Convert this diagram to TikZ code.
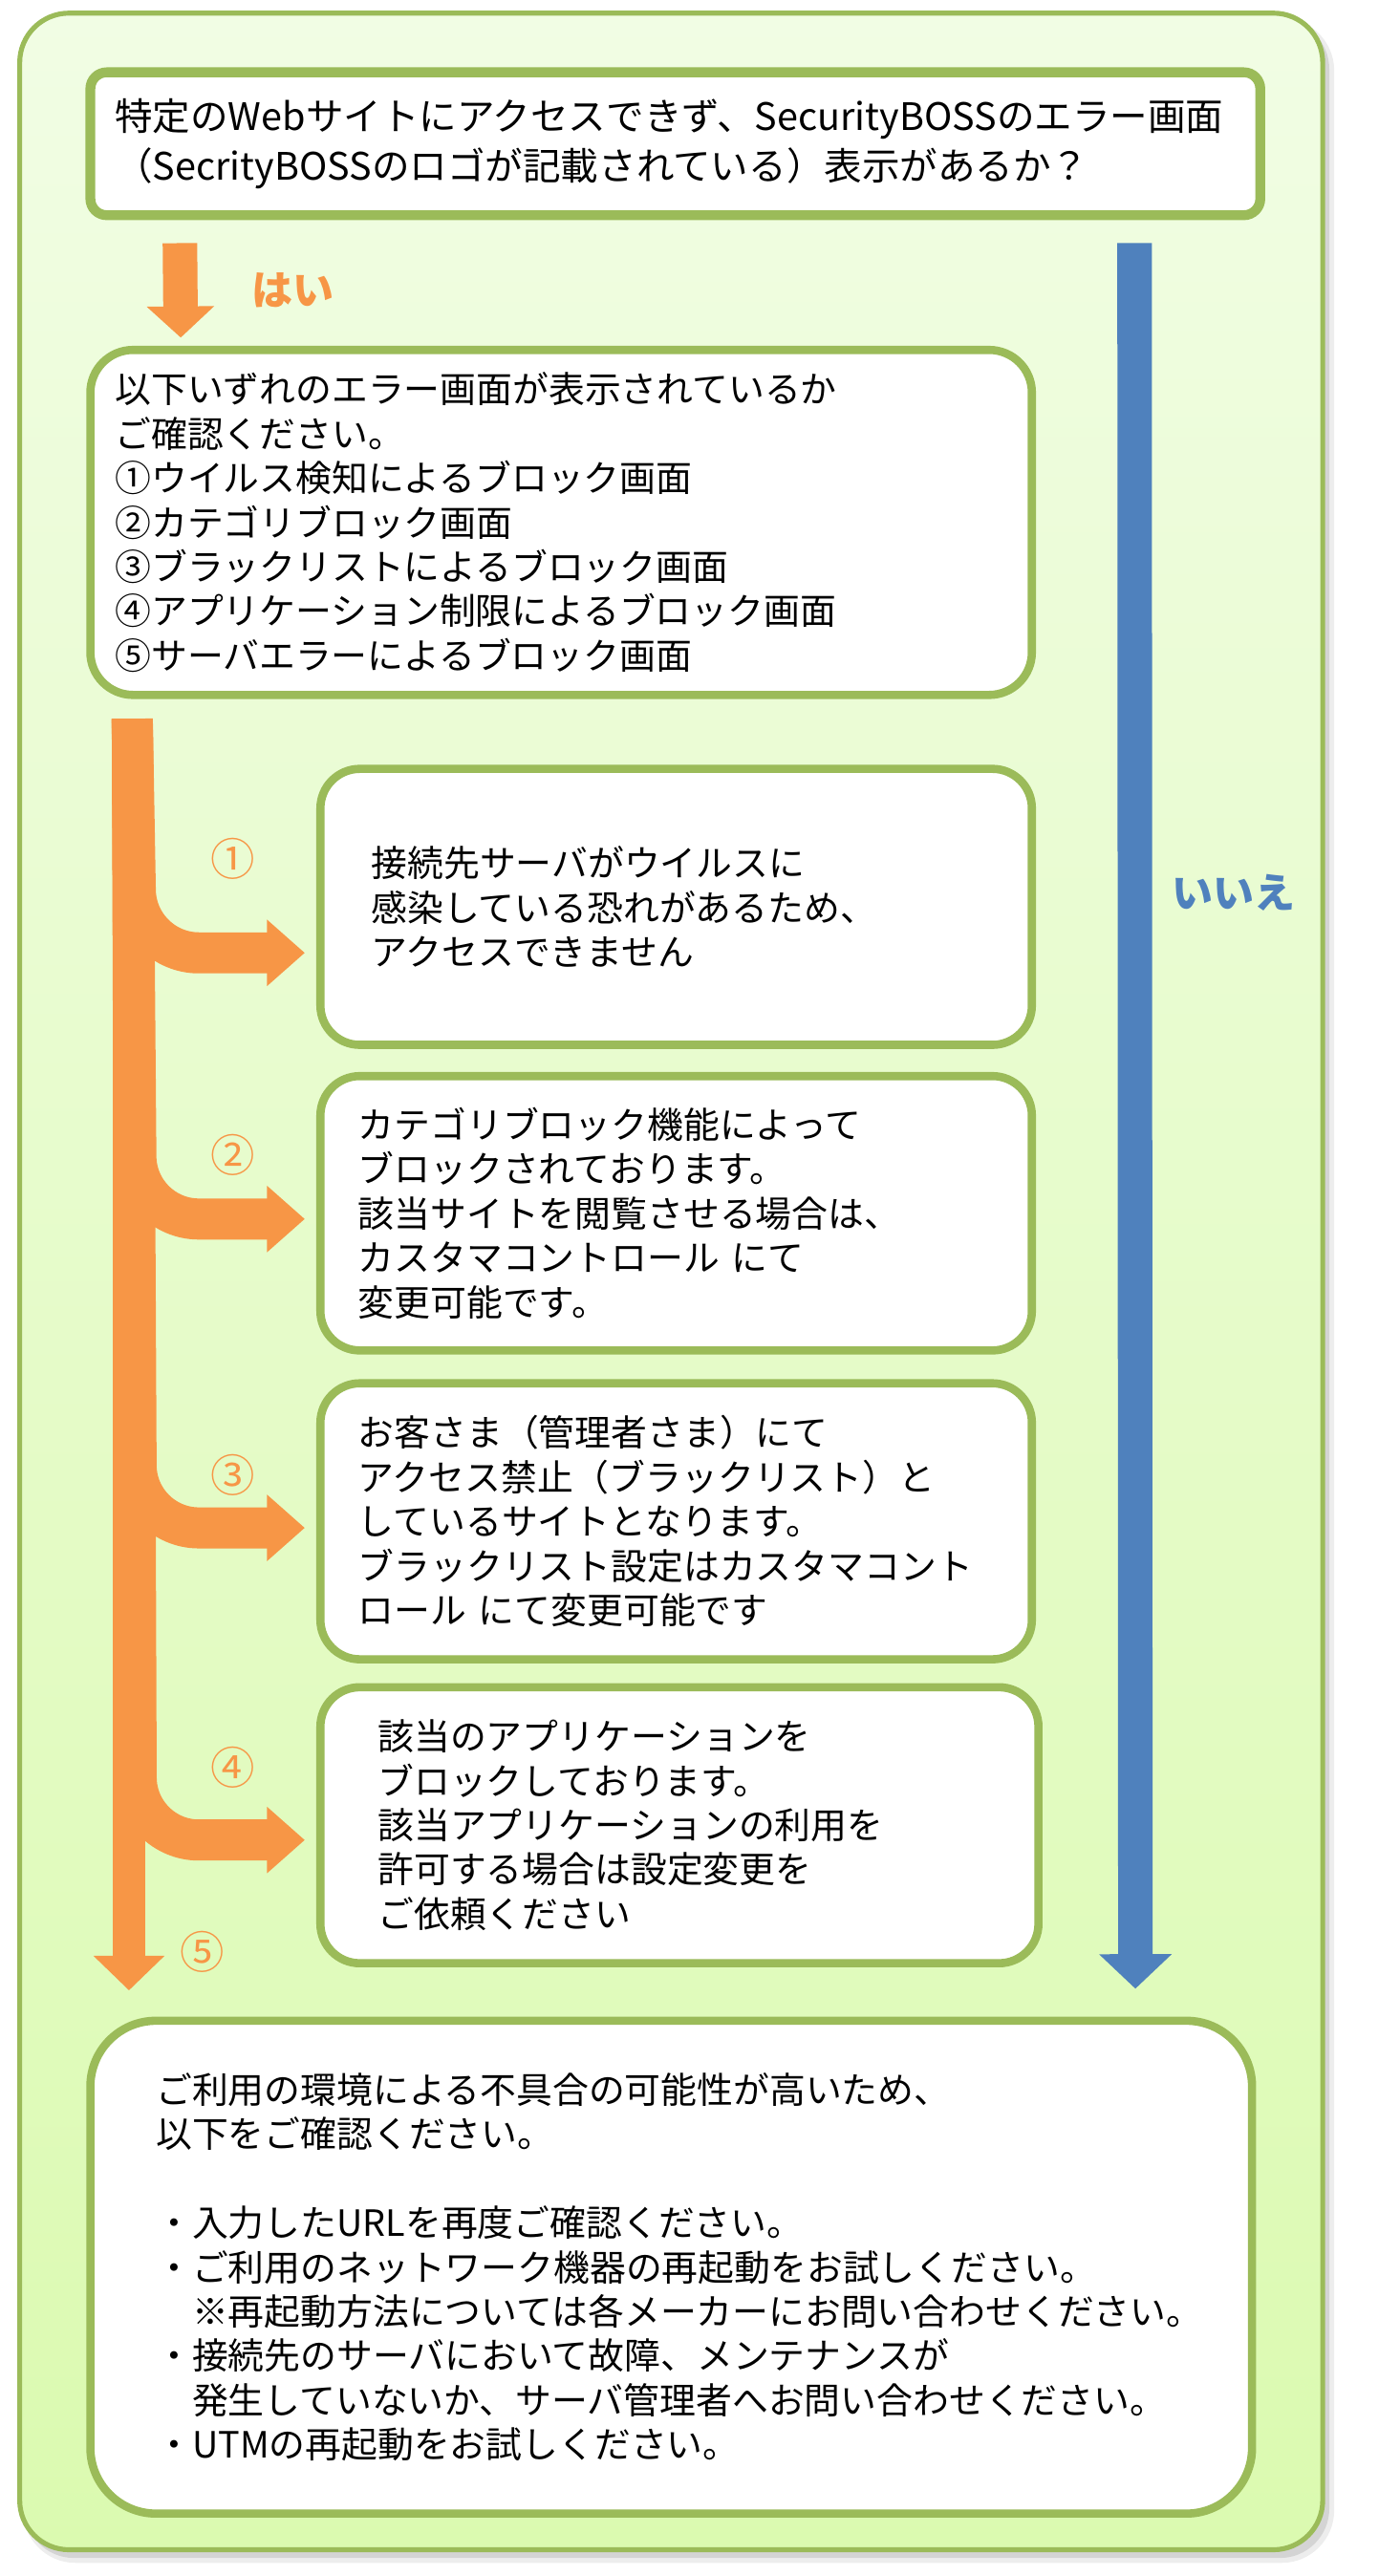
\documentclass[tikz,border=0pt]{standalone}
\usepackage{fontspec}
\setmainfont{Noto Sans CJK JP}
\usetikzlibrary{arrows.meta,calc}

\definecolor{framegreen}{RGB}{155,187,89}
\definecolor{bgtop}{RGB}{241,253,228}
\definecolor{bgbottom}{RGB}{219,250,176}
\definecolor{flow}{RGB}{247,150,70}
\definecolor{nopath}{RGB}{79,129,189}

\tikzset{
  msgbox/.style={draw=framegreen,line width=5pt,fill=white,rounded corners=24pt,
    align=left,inner sep=0pt,font=\fontsize{22}{27}\selectfont},
  lskip/.style={execute at begin node={\leftskip=#1pt}},
  branch/.style={flow,line width=25pt,rounded corners=38pt,shorten >=7pt,
    -{Triangle[width=39pt,length=23pt]}},
  anslbl/.style={flow,inner sep=0pt,font=\fontsize{25}{25}\selectfont\bfseries},
  numlbl/.style={flow,inner sep=0pt,font=\fontsize{27}{27}\selectfont},
}

\begin{document}
\begin{tikzpicture}[x=1pt,y=-1pt]
\fill[white] (0,0) rectangle (852,1568);
\useasboundingbox (0,0) rectangle (852,1568);

% panel
\fill[black,opacity=0.07,rounded corners=32pt] (14,11) rectangle (812,1560);
\fill[black,opacity=0.10,rounded corners=30pt] (15,12) rectangle (809,1557);
\draw[framegreen,line width=3pt,rounded corners=30pt,top color=bgtop,bottom color=bgbottom]
  (12,8) rectangle (805,1552);

% question
\node[msgbox,line width=6pt,rounded corners=10pt,minimum width=712pt,minimum height=87pt,
  text width=682pt,font=\fontsize{23}{30}\selectfont] (q) at (411,87.5)
  {特定のWebサイトにアクセスできず、SecurityBOSSのエラー画面\\
   （SecrityBOSSのロゴが記載されている）表示があるか？};

\node[msgbox,rounded corners=26pt,minimum width=573pt,minimum height=210pt,text width=543pt]
  (list) at (341.5,318)
  {以下いずれのエラー画面が表示されているか\\
   ご確認ください。\\
   ①ウイルス検知によるブロック画面\\
   ②カテゴリブロック画面\\
   ③ブラックリストによるブロック画面\\
   ④アプリケーション制限によるブロック画面\\
   ⑤サーバエラーによるブロック画面};

% answers
\node[msgbox,minimum width=433pt,minimum height=168pt,text width=403pt,lskip=16]
  (b1) at (411.5,552)
  {接続先サーバがウイルスに\\
   感染している恐れがあるため、\\
   アクセスできません};
\node[msgbox,minimum width=433pt,minimum height=167pt,text width=403pt,lskip=8]
  (b2) at (411.5,738.5)
  {カテゴリブロック機能によって\\
   ブロックされております。\\
   該当サイトを閲覧させる場合は、\\
   カスタマコントロール にて\\
   変更可能です。};
\node[msgbox,minimum width=433pt,minimum height=168pt,text width=403pt,lskip=8]
  (b3) at (411.5,926)
  {お客さま（管理者さま）にて\\
   アクセス禁止（ブラックリスト）と\\
   しているサイトとなります。\\
   ブラックリスト設定はカスタマコント\\
   ロール にて変更可能です};
\node[msgbox,minimum width=437pt,minimum height=168pt,text width=407pt,lskip=20]
  (b4) at (413.5,1111)
  {該当のアプリケーションを\\
   ブロックしております。\\
   該当アプリケーションの利用を\\
   許可する場合は設定変更を\\
   ご依頼ください};

\node[msgbox,rounded corners=40pt,minimum width=707pt,minimum height=300pt,text width=677pt,lskip=25]
  (res) at (408.5,1380)
  {ご利用の環境による不具合の可能性が高いため、\\
   以下をご確認ください。\\[27pt]
   ・入力したURLを再度ご確認ください。\\
   ・ご利用のネットワーク機器の再起動をお試しください。\\
   　※再起動方法については各メーカーにお問い合わせください。\\
   ・接続先のサーバにおいて故障、メンテナンスが\\
   　発生していないか、サーバ管理者へお問い合わせください。\\
   ・UTMの再起動をお試しください。};

% yes / no
\draw[flow,line width=21pt,-{Triangle[width=40pt,length=19pt]}]
  ($(q.south west)+(57.5,14)$) -- node[anslbl,anchor=west,xshift=33pt] (yes) {はい}
  ($(list.north west)+(57.5,-5)$);
\draw[nopath,line width=21pt,-{Triangle[width=43pt,length=21pt]}]
  ($(q.south west)+(638.5,14)$) -- node[anslbl,nopath,pos=0.372,anchor=west,xshift=12pt] (no) {いいえ}
  ($(res.north west)+(638.5,-17)$);

% branches
\draw[flow,line width=20pt,-{Triangle[width=42pt,length=21pt]}]
  ($(list.south west)+(26,12)$) -- ($(res.north west)+(26,-16)$);
\node[numlbl] (n5) at (123,1188) {⑤};
\foreach \msg/\yb/\num/\yn [count=\i] in {b1/580/①/523,b2/742/②/703,b3/930/③/898,b4/1120/④/1076}{
  \coordinate (bend\i) at (83,\yb);
  \draw[branch] ($(list.south west)+(28,12)$) -- (bend\i) -- (\msg.west |- bend\i);
  \node[numlbl] (n\i) at (142,\yn) {\num};
}
\end{tikzpicture}
\end{document}
